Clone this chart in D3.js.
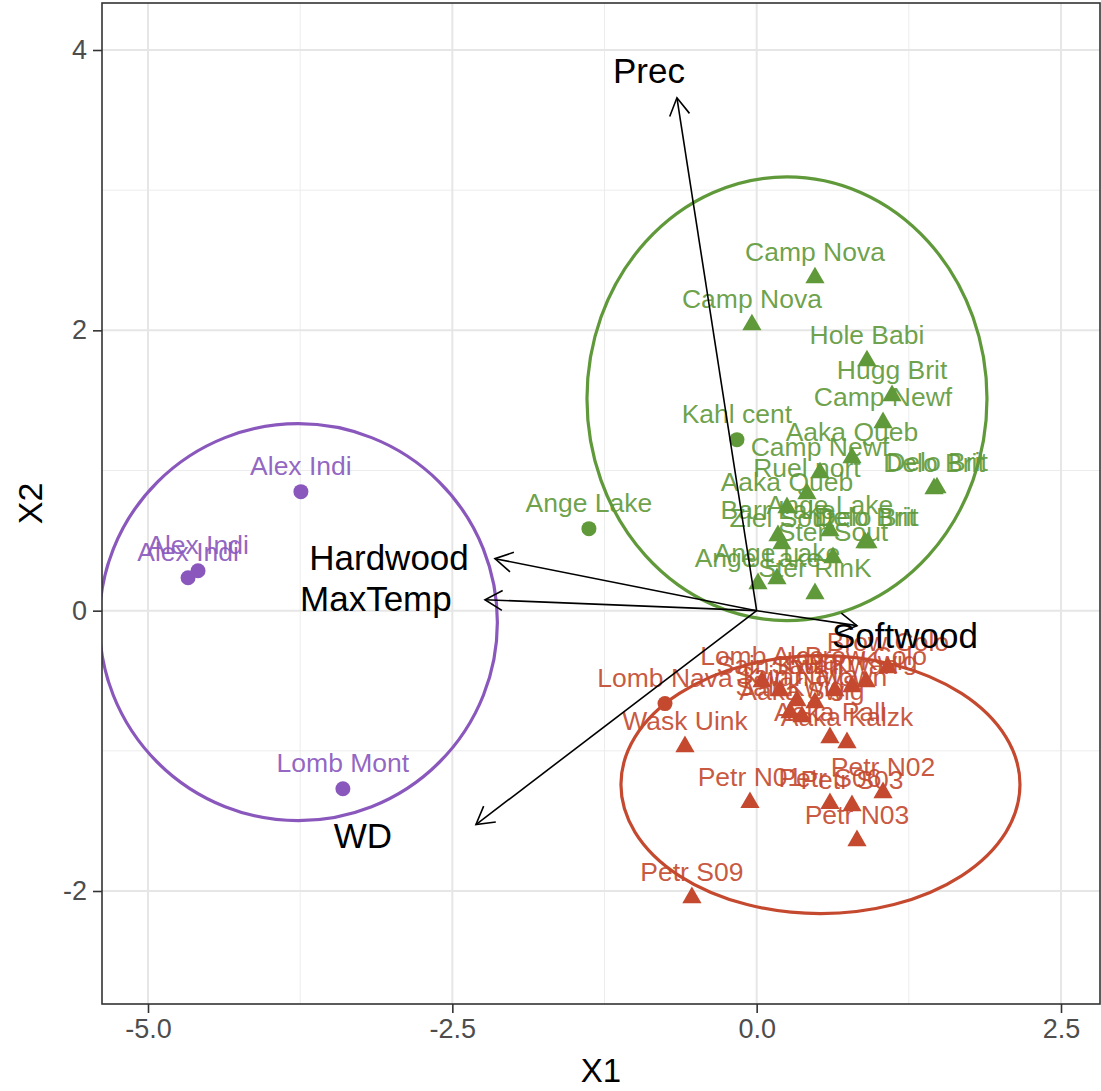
<!DOCTYPE html>
<html>
<head>
<meta charset="utf-8">
<script src="https://cdn.jsdelivr.net/npm/d3@7"></script>
<style>
  html, body { margin: 0; padding: 0; background: #fff; }
  svg text { font-family: "Liberation Sans", Arial, Helvetica, sans-serif; }
</style>
</head>
<body>
<svg id="chart" width="1101" height="1091"></svg>
<script>
// ---- Site scores on the first two ordination axes ----
const purpleNames = ["Alex Indi", "Alex Indi", "Alex Indi", "Lomb Mont"];
const purpleX = [-3.744, -4.671, -4.589, -3.399];
const purpleY = [0.849, 0.235, 0.285, -1.270];
const purpleShape = ["circle", "circle", "circle", "circle"];

const greenNames = ["Kahl cent", "Ange Lake", "Camp Nova", "Camp Nova", "Hole Babi", "Hugg Brit",
  "Camp Newf", "Aaka Queb", "Camp Newf", "Delo Brit", "Delo Brit", "Ruel nort", "Aaka Queb",
  "Ange Lake", "Barr Lake", "Ziel Sout", "Delo Brit", "Delo Brit", "Ster Sout", "Ange Lake",
  "Ange Lake", "Ster RinK"];
const greenX = [-0.162, -1.378, 0.479, -0.039, 0.906, 1.112, 1.038, 0.783, 0.520, 1.457, 1.481,
  0.413, 0.249, 0.602, 0.175, 0.207, 0.890, 0.914, 0.627, 0.011, 0.167, 0.479];
const greenY = [1.220, 0.585, 2.375, 2.040, 1.783, 1.534, 1.341, 1.091, 0.984, 0.870, 0.877,
  0.835, 0.735, 0.571, 0.535, 0.478, 0.485, 0.485, 0.378, 0.193, 0.228, 0.121];
const greenShape = ["circle", "circle", "triangle", "triangle", "triangle", "triangle", "triangle",
  "triangle", "triangle", "triangle", "triangle", "triangle", "triangle", "triangle", "triangle",
  "triangle", "triangle", "triangle", "triangle", "triangle", "triangle", "triangle"];

const redNames = ["Lomb Nava", "Wask Uink", "Brow Colo", "Lomb Alco", "Brow Colo", "Sain Kwan",
  "Sain Nava", "Kwan Mown", "Saul Kwan", "Kwan Kwig", "Sall Kwig", "Aaka Swig", "Aaka Pall",
  "Aaka Kalzk", "Petr N01", "Petr S06", "Petr S03", "Petr N03", "Petr N02", "Petr S09"];
const redX = [-0.753, -0.589, 1.078, 0.044, 0.898, 0.191, 0.331, 0.479, 0.643, 0.783, 0.274,
  0.372, 0.602, 0.742, -0.055, 0.602, 0.783, 0.824, 1.038, -0.532];
const redY = [-0.663, -0.970, -0.407, -0.506, -0.506, -0.571, -0.642, -0.656, -0.571, -0.542,
  -0.728, -0.756, -0.906, -0.942, -1.369, -1.376, -1.391, -1.641, -1.298, -2.047];
const redShape = ["circle", "triangle", "triangle", "triangle", "triangle", "triangle", "triangle",
  "triangle", "triangle", "triangle", "triangle", "triangle", "triangle", "triangle", "triangle",
  "triangle", "triangle", "triangle", "triangle", "triangle"];

// ---- Group ellipses (centre and half-axes in data units) ----
const ellipseGroup = ["purple", "green", "red"];
const ellipseCx = [-3.765, 0.249, 0.524];
const ellipseCy = [-0.082, 1.512, -1.241];
const ellipseRx = [1.635, 1.643, 1.639];
const ellipseRy = [1.416, 1.583, 0.920];

// ---- Environmental vectors ----
const vectorNames = ["Prec", "Hardwood", "MaxTemp", "WD", "Softwood"];
const vectorX = [-0.655, -2.150, -2.232, -2.306, 0.824];
const vectorY = [3.659, 0.371, 0.078, -1.526, -0.107];
const vectorLabelX = [-0.885, -3.020, -3.128, -3.235, 1.218];
const vectorLabelY = [3.852, 0.378, 0.086, -1.605, -0.178];

// ---- Axis ticks ----
const xTicks = [-5.0, -2.5, 0.0, 2.5];
const xMinor = [-3.75, -1.25, 1.25];
const yTicks = [-2, 0, 2, 4];
const yMinor = [-1, 1, 3];

const groupColor = { purple: "#8a58bd", green: "#5f993a", red: "#c4492f" };

const svg = d3.select("#chart");

const x = d3.scaleLinear().domain([-5, 2.5]).range([148, 1061]);
const y = d3.scaleLinear().domain([-2, 4]).range([891, 50]);

const panel = { left: 102, right: 1100, top: 3, bottom: 1004 };

// clip region for the plotting panel
svg.append("defs").append("clipPath").attr("id", "panelClip")
  .append("rect")
  .attr("x", panel.left).attr("y", panel.top)
  .attr("width", panel.right - panel.left).attr("height", panel.bottom - panel.top);

// panel background
svg.append("rect")
  .attr("x", panel.left).attr("y", panel.top)
  .attr("width", panel.right - panel.left).attr("height", panel.bottom - panel.top)
  .attr("fill", "#fff");

const grid = svg.append("g").attr("clip-path", "url(#panelClip)");
grid.selectAll(".xminor").data(xMinor).join("line")
  .attr("x1", d => x(d)).attr("x2", d => x(d))
  .attr("y1", panel.top).attr("y2", panel.bottom)
  .attr("stroke", "#ececec").attr("stroke-width", 1);
grid.selectAll(".yminor").data(yMinor).join("line")
  .attr("y1", d => y(d)).attr("y2", d => y(d))
  .attr("x1", panel.left).attr("x2", panel.right)
  .attr("stroke", "#ececec").attr("stroke-width", 1);
grid.selectAll(".xmajor").data(xTicks).join("line")
  .attr("x1", d => x(d)).attr("x2", d => x(d))
  .attr("y1", panel.top).attr("y2", panel.bottom)
  .attr("stroke", "#e6e6e6").attr("stroke-width", 2);
grid.selectAll(".ymajor").data(yTicks).join("line")
  .attr("y1", d => y(d)).attr("y2", d => y(d))
  .attr("x1", panel.left).attr("x2", panel.right)
  .attr("stroke", "#e6e6e6").attr("stroke-width", 2);

// assemble site rows
function rows(names, xs, ys, shapes, group) {
  return names.map((n, i) => ({ name: n, x: xs[i], y: ys[i], shape: shapes[i], group }));
}
const sites = [
  ...rows(purpleNames, purpleX, purpleY, purpleShape, "purple"),
  ...rows(greenNames, greenX, greenY, greenShape, "green"),
  ...rows(redNames, redX, redY, redShape, "red")
];

const plot = svg.append("g").attr("clip-path", "url(#panelClip)");

const tri = d3.symbol().type(d3.symbolTriangle).size(160);

// points
plot.selectAll(".pt").data(sites).join(enter => {
  const g = enter.append("g").attr("class", "pt");
  g.each(function (d) {
    const sel = d3.select(this);
    if (d.shape === "circle") {
      sel.append("circle").attr("cx", x(d.x)).attr("cy", y(d.y)).attr("r", 7.5)
        .attr("fill", groupColor[d.group]);
    } else {
      sel.append("path").attr("d", tri)
        .attr("transform", `translate(${x(d.x)},${y(d.y)})`)
        .attr("fill", groupColor[d.group]);
    }
  });
  return g;
});

// site labels, nudged above each point
const nudgeY = 0.186;
plot.selectAll(".lab").data(sites).join("text")
  .attr("x", d => x(d.x))
  .attr("y", d => y(d.y + nudgeY))
  .attr("dy", "0.35em")
  .attr("text-anchor", "middle")
  .attr("font-size", 26.5)
  .attr("fill", d => groupColor[d.group])
  .attr("fill-opacity", 0.92)
  .text(d => d.name);

// group ellipses
const ellipses = ellipseGroup.map((g, i) => ({ g, cx: ellipseCx[i], cy: ellipseCy[i], rx: ellipseRx[i], ry: ellipseRy[i] }));
plot.selectAll(".ell").data(ellipses).join("ellipse")
  .attr("cx", d => x(d.cx)).attr("cy", d => y(d.cy))
  .attr("rx", d => x(d.cx + d.rx) - x(d.cx))
  .attr("ry", d => y(d.cy) - y(d.cy + d.ry))
  .attr("fill", "none")
  .attr("stroke", d => groupColor[d.g])
  .attr("stroke-width", 3.2);

// environmental vectors with open arrow heads
const vectors = vectorNames.map((n, i) => ({ n, x: vectorX[i], y: vectorY[i], lx: vectorLabelX[i], ly: vectorLabelY[i] }));
const headLen = 20, headAng = Math.PI / 6;
const vg = plot.selectAll(".vec").data(vectors).join("g").attr("class", "vec");
vg.append("line")
  .attr("x1", x(0)).attr("y1", y(0))
  .attr("x2", d => x(d.x)).attr("y2", d => y(d.y))
  .attr("stroke", "#000").attr("stroke-width", 1.6);
vg.append("path")
  .attr("d", d => {
    const x0 = x(0), y0 = y(0), x1 = x(d.x), y1 = y(d.y);
    const a = Math.atan2(y1 - y0, x1 - x0);
    const p1 = [x1 - headLen * Math.cos(a - headAng), y1 - headLen * Math.sin(a - headAng)];
    const p2 = [x1 - headLen * Math.cos(a + headAng), y1 - headLen * Math.sin(a + headAng)];
    return `M${p1[0]},${p1[1]}L${x1},${y1}L${p2[0]},${p2[1]}`;
  })
  .attr("fill", "none").attr("stroke", "#000").attr("stroke-width", 1.6);
vg.append("text")
  .attr("x", d => x(d.lx)).attr("y", d => y(d.ly))
  .attr("dy", "0.35em")
  .attr("text-anchor", "middle")
  .attr("font-size", 35)
  .attr("fill", "#000")
  .text(d => d.n);

// panel border
svg.append("rect")
  .attr("x", panel.left).attr("y", panel.top)
  .attr("width", panel.right - panel.left).attr("height", panel.bottom - panel.top)
  .attr("fill", "none").attr("stroke", "#333").attr("stroke-width", 1.6);

// axes
const xAxis = svg.append("g").attr("transform", `translate(0,${panel.bottom})`)
  .call(d3.axisBottom(x).tickValues(xTicks).tickFormat(d => d.toFixed(1)).tickSize(9).tickPadding(6));
const yAxis = svg.append("g").attr("transform", `translate(${panel.left},0)`)
  .call(d3.axisLeft(y).tickValues(yTicks).tickFormat(d => String(d)).tickSize(9).tickPadding(6));
[xAxis, yAxis].forEach(a => {
  a.select(".domain").remove();
  a.selectAll(".tick line").attr("stroke", "#333").attr("stroke-width", 1.6);
  a.selectAll(".tick text").attr("fill", "#4d4d4d").attr("font-size", 27)
    .attr("font-family", "Liberation Sans, Arial, sans-serif");
});

// axis titles
svg.append("text")
  .attr("x", (panel.left + panel.right) / 2).attr("y", 1082)
  .attr("text-anchor", "middle").attr("font-size", 33).attr("fill", "#000")
  .text("X1");
svg.append("text")
  .attr("transform", `translate(42,${(panel.top + panel.bottom) / 2}) rotate(-90)`)
  .attr("text-anchor", "middle").attr("font-size", 34).attr("fill", "#000")
  .text("X2");
</script>
</body>
</html>
